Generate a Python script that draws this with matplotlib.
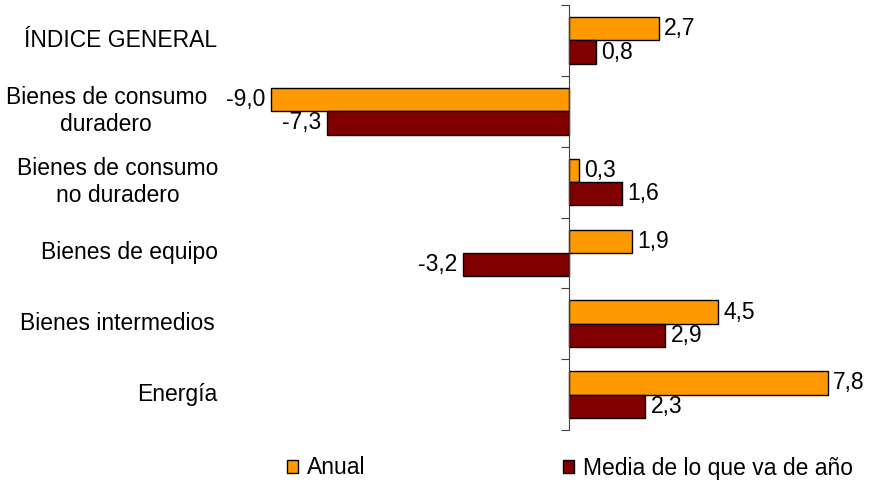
import numpy as np
import matplotlib.pyplot as plt
from matplotlib.patches import Patch
from matplotlib.transforms import blended_transform_factory

plt.rcParams['font.family'] = ['Liberation Sans', 'DejaVu Sans']

# -----------------------
# Data
# -----------------------
categories = [
    "ÍNDICE GENERAL",
    "Bienes de consumo\nduradero",
    "Bienes de consumo\nno duradero",
    "Bienes de equipo",
    "Bienes intermedios",
    "Energía",
]
anual = [2.7, -9.0, 0.3, 1.9, 4.5, 7.8]
media = [0.8, -7.3, 1.6, -3.2, 2.9, 2.3]
series_names = ["Anual", "Media de lo que va de año"]

# label right edges in pixels (Excel pushed one label left)
label_right_px = [217, 207, 218, 218, 215, 217]

c_anual = "#FF9900"
c_media = "#800000"
fs = 16.5

W, H = 869, 484
fig = plt.figure(figsize=(W / 100, H / 100), dpi=100)
ax = fig.add_axes([254 / W, 1 - 430 / H, 597 / W, 425 / H])

y = np.arange(len(categories))
h = 0.33
ax.barh(y - h / 2, anual, height=h, color=c_anual, edgecolor="black", linewidth=1.0, label=series_names[0])
ax.barh(y + h / 2, media, height=h, color=c_media, edgecolor="black", linewidth=1.0, label=series_names[1])

ax.set_xlim(-9.5, 8.5)
ax.set_ylim(len(categories) - 0.5, -0.5)

# value labels
for vals, off in ((anual, -h / 2), (media, h / 2)):
    for yi, v in zip(y, vals):
        txt = f"{v:.1f}".replace(".", ",")
        ax.annotate(txt, (v, yi + off), xytext=(4 if v >= 0 else -4, 0),
                    textcoords="offset points", ha="left" if v >= 0 else "right",
                    va="center", fontsize=fs)

# spines / ticks
for s in ("top", "right", "bottom"):
    ax.spines[s].set_visible(False)
ax.spines["left"].set_position(("data", 0))
ax.spines["left"].set_color("#404040")
ax.set_xticks([])
ax.set_yticks(np.arange(-0.5, len(categories), 1.0))
ax.set_yticklabels([])
ax.tick_params(axis="y", direction="out", length=6, color="#404040")

# category labels
trans = blended_transform_factory(fig.transFigure, ax.transData)
for yi, lab, xr in zip(y, categories, label_right_px):
    ax.text(xr / W, yi, lab, transform=trans, ha="right", va="center",
            multialignment="center", fontsize=fs, linespacing=1.2)

handles = [Patch(facecolor=c_anual, edgecolor="black"),
           Patch(facecolor=c_media, edgecolor="black")]
fig.legend(handles, series_names, loc="center", bbox_to_anchor=(570 / W, 1 - 468 / H),
           ncol=2, frameon=False, fontsize=fs, handlelength=0.5, handleheight=0.5,
           handletextpad=0.4, columnspacing=8.6)

fig.savefig("out.png", dpi=100)
